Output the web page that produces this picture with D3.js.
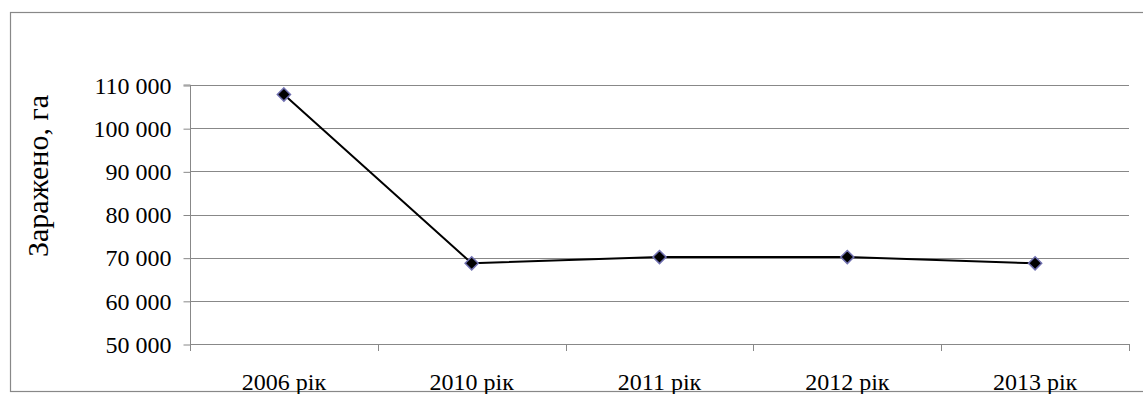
<!DOCTYPE html>
<html><head><meta charset="utf-8">
<script src="https://cdn.jsdelivr.net/npm/d3@7"></script>
<style>body{margin:0;background:#fff}svg{display:block}</style>
</head><body>
<script>
const categories = ["2006 рік","2010 рік","2011 рік","2012 рік","2013 рік"];
const values = [107800, 68700, 70150, 70150, 68700];
const yTicks = [50000,60000,70000,80000,90000,100000,110000];
const yTitle = "Заражено, га";

const W=1143,H=394;
const svg=d3.select("body").append("svg").attr("width",W).attr("height",H);
const font='"Liberation Serif", "Times New Roman", serif';
const grid="#888";

// outer frame
svg.append("rect").attr("x",10.5).attr("y",12.5).attr("width",1150).attr("height",379)
  .attr("fill","none").attr("stroke","#888").attr("stroke-width",1.2);

const L=190,R=1129,T=85,B=344;
const x=d3.scaleBand().domain(categories).range([L,R]).paddingInner(0).paddingOuter(0);
const y=d3.scaleLinear().domain([50000,110000]).range([B,T]);

// gridlines
svg.append("g").selectAll("line").data(yTicks.filter(t=>t>50000)).join("line")
  .attr("x1",L).attr("x2",R).attr("y1",d=>Math.round(y(d))+0.5).attr("y2",d=>Math.round(y(d))+0.5)
  .attr("stroke",grid).attr("stroke-width",1);

// y axis
const yAxis=d3.axisLeft(y).tickValues(yTicks).tickSize(7).tickPadding(12)
  .tickFormat(d=>d3.format(",")(d).replace(/,/g," "));
const gy=svg.append("g").attr("transform",`translate(${L+0.5},0.5)`).call(yAxis);
gy.select(".domain").attr("stroke",grid).attr("d",`M-7,${T-0.5}H0V${B-0.5}`);
gy.selectAll(".tick line").attr("stroke",grid);
gy.selectAll(".tick text").style("font-family",font).style("font-size","24px").attr("fill","#000");

// x axis
const xAxis=d3.axisBottom(x).tickSize(0).tickPadding(0);
const gx=svg.append("g").attr("transform",`translate(0,${B+0.5})`).call(xAxis);
gx.select(".domain").attr("stroke",grid).attr("d",`M${L},0H${R}`);
gx.selectAll(".tick text").style("font-family",font).style("font-size","24px").attr("fill","#000")
  .attr("dy",0).attr("y",45);
// category boundary ticks
const bounds=categories.map(c=>x(c)).concat([R]);
svg.append("g").selectAll("line").data(bounds).join("line")
  .attr("x1",d=>Math.round(d)+0.5).attr("x2",d=>Math.round(d)+0.5)
  .attr("y1",B).attr("y2",B+7).attr("stroke",grid);

// line
const cx=d=>x(d)+x.bandwidth()/2;
const line=d3.line().x((d,i)=>cx(categories[i])).y(d=>y(d));
svg.append("path").datum(values).attr("d",line).attr("fill","none")
  .attr("stroke","#000").attr("stroke-width",2);

// markers
svg.append("g").selectAll("path").data(values).join("path")
  .attr("d",d3.symbol().type(d3.symbolDiamond2).size(110))
  .attr("transform",(d,i)=>`translate(${cx(categories[i])},${y(d)})`)
  .attr("fill","#000").attr("stroke","#7070b0").attr("stroke-width",1.5);

// y title
svg.append("text").attr("transform","translate(48,176) rotate(-90)")
  .attr("text-anchor","middle").style("font-family",font).style("font-size","30px")
  .attr("fill","#000").text(yTitle);
</script>
</body></html>
